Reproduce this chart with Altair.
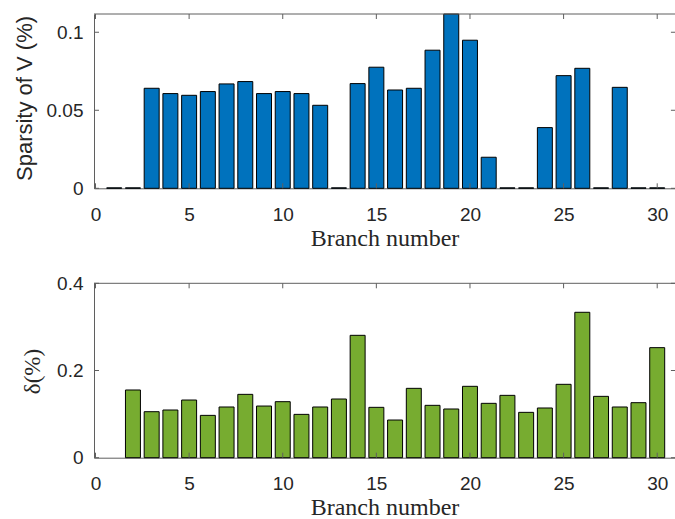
import altair as alt
import pandas as pd

# ---- data -------------------------------------------------------------
branch = list(range(1, 31))
sparsity = [0.0003, 0.0003, 0.0641, 0.0607, 0.0596, 0.0620, 0.0669, 0.0684,
            0.0607, 0.0620, 0.0607, 0.0532, 0.0003, 0.0671, 0.0776, 0.0630,
            0.0641, 0.0885, 0.1150, 0.0949, 0.0199, 0.0003, 0.0003, 0.0389,
            0.0722, 0.0769, 0.0003, 0.0647, 0.0003, 0.0003]
delta = [None, 0.1553, 0.1055, 0.1094, 0.1323, 0.0971, 0.1163, 0.1453,
         0.1185, 0.1285, 0.0994, 0.1163, 0.1346, 0.2807, 0.1155, 0.0864,
         0.1591, 0.1201, 0.1117, 0.1637, 0.1247, 0.1430, 0.1040, 0.1140,
         0.1683, 0.3335, 0.1407, 0.1163, 0.1262, 0.2524]
x_ticks = [0, 5, 10, 15, 20, 25, 30]
sparsity_ticks = [0, 0.05, 0.1]
delta_ticks = [0, 0.2, 0.4]

# ---- layout / style ---------------------------------------------------
W, H = 581, 444
X_DOMAIN = [-0.08, 30.95]
X_RIGHT = 31
BAR_HALF = 0.4
TOP_RANGE = [174.3, 0]
BOT_RANGE = [443.7, 269.3]
SPARSITY_MAX = 0.1117
DELTA_MAX = 0.4
TICK_LEN = 5

AXIS_COLOR = "#5f5f5f"
TEXT_COLOR = "#262626"
SANS = "Liberation Sans"
SERIF = "Liberation Serif"

bars_df = pd.DataFrame({"branch": branch, "sparsity": sparsity, "delta": delta})
xt_df = pd.DataFrame({"t": x_ticks})
one_df = pd.DataFrame({"k": [0]})


def panel_layers(field, fill, ymax, yrange, yticks, ytitle, ytitle_font,
                 ytitle_size, ytitle_x, ytitle_y, x_offset):
    xs = alt.Scale(domain=X_DOMAIN, nice=False, zero=False)
    ys = alt.Scale(domain=[0, ymax], range=yrange, nice=False, zero=False, clamp=True)

    x_axis = alt.Axis(
        orient="bottom", offset=x_offset, values=x_ticks, title="Branch number",
        ticks=False, tickSize=0, grid=False,
        domain=True, domainColor=AXIS_COLOR, domainWidth=1,
        labelFont=SANS, labelFontSize=19, labelColor=TEXT_COLOR,
        labelPadding=17, labelFlush=False, labelOverlap=False,
        titleFont=SERIF, titleFontSize=24, titleFontWeight="normal",
        titleColor=TEXT_COLOR, titleBaseline="alphabetic", titleY=57,
    )
    y_axis = alt.Axis(
        orient="left", values=yticks, title=ytitle,
        labelExpr="'' + datum.value",
        ticks=False, tickSize=0, grid=False,
        domain=True, domainColor=AXIS_COLOR, domainWidth=1,
        labelFont=SANS, labelFontSize=19, labelColor=TEXT_COLOR,
        labelPadding=11, labelOverlap=False,
        titleFont=ytitle_font, titleFontSize=ytitle_size,
        titleFontWeight="normal", titleColor=TEXT_COLOR,
        titleBaseline="middle", titleAlign="center",
        titleX=ytitle_x, titleY=ytitle_y,
    )

    bars = (
        alt.Chart(bars_df)
        .transform_filter(f"isValid(datum.{field})")
        .transform_calculate(lo=f"datum.branch - {BAR_HALF}",
                             hi=f"datum.branch + {BAR_HALF}",
                             base="0")
        .mark_bar(fill=fill, stroke="black", strokeWidth=1)
        .encode(
            x=alt.X("lo:Q", scale=xs, axis=x_axis),
            x2="hi:Q",
            y=alt.Y(f"{field}:Q", scale=ys, axis=y_axis),
            y2="base:Q",
        )
    )

    # top border of the box
    border = alt.Chart(one_df).mark_rule(color=AXIS_COLOR, strokeWidth=1).encode(
        x=alt.XDatum(X_DOMAIN[0], scale=xs, axis=None),
        x2=alt.X2Datum(X_RIGHT),
        y=alt.YDatum(ymax, scale=ys, axis=None),
    )

    # inward tick marks on all four sides
    xt_bottom = alt.Chart(xt_df).mark_rule(color=AXIS_COLOR, y2Offset=-TICK_LEN).encode(
        x=alt.X("t:Q", scale=xs, axis=None),
        y=alt.YDatum(0, scale=ys, axis=None),
        y2=alt.Y2Datum(0),
    )
    xt_top = alt.Chart(xt_df).mark_rule(color=AXIS_COLOR, y2Offset=TICK_LEN).encode(
        x=alt.X("t:Q", scale=xs, axis=None),
        y=alt.YDatum(ymax, scale=ys, axis=None),
        y2=alt.Y2Datum(ymax),
    )
    yt_df = pd.DataFrame({"t": yticks})
    yt_left = alt.Chart(yt_df).mark_rule(color=AXIS_COLOR, x2Offset=TICK_LEN).encode(
        y=alt.Y("t:Q", scale=ys, axis=None),
        x=alt.XDatum(X_DOMAIN[0], scale=xs, axis=None),
        x2=alt.X2Datum(X_DOMAIN[0]),
    )
    yt_right = alt.Chart(yt_df).mark_rule(color=AXIS_COLOR, x2Offset=-TICK_LEN).encode(
        y=alt.Y("t:Q", scale=ys, axis=None),
        x=alt.XDatum(X_RIGHT, scale=xs, axis=None),
        x2=alt.X2Datum(X_RIGHT),
    )
    return [bars, border, xt_bottom, xt_top, yt_left, yt_right]


top = panel_layers("sparsity", "#0072BD", SPARSITY_MAX, TOP_RANGE, sparsity_ticks,
                   "Sparsity of V (%)", SANS, 22, -70, 84, -(H - TOP_RANGE[0]))
bottom = panel_layers("delta", "#77AC30", DELTA_MAX, BOT_RANGE, delta_ticks,
                      "δ(%)", SERIF, 23, -61.5, 357, -(H - BOT_RANGE[0]))

chart = (
    alt.layer(*top, *bottom)
    .resolve_scale(x="independent", y="independent")
    .resolve_axis(x="independent", y="independent")
    .properties(
        width=W, height=H,
        autosize=alt.AutoSizeParams(type="none"),
        padding={"left": 94, "top": 14, "right": 0, "bottom": 61},
        background="white",
    )
    .configure_view(stroke=None)
)

chart.save("out.html", embed_options={"renderer": "svg", "actions": False})
